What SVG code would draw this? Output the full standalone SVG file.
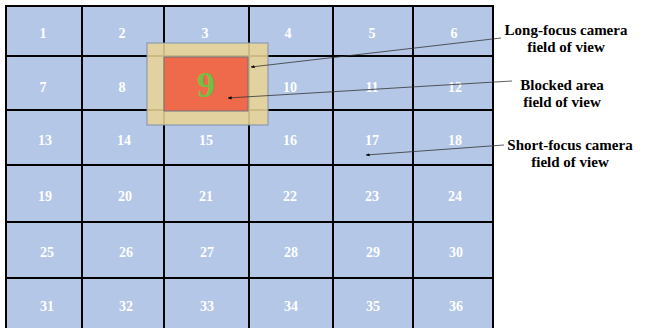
<svg xmlns="http://www.w3.org/2000/svg" width="649" height="328" viewBox="0 0 649 328">
<style>
.cell{fill:#b4c7e7;stroke:#000;stroke-width:2}
.num{font-family:"Liberation Serif",serif;font-weight:bold;font-size:14px;fill:#fff;text-anchor:middle}
.lbl{font-family:"Liberation Serif",serif;font-weight:bold;font-size:15px;fill:#000;text-anchor:middle}
.conn{stroke:#333;stroke-width:0.8;fill:none;marker-end:url(#ah)}
</style>
<defs>
<marker id="ah" viewBox="0 0 10 10" refX="9" refY="5" markerWidth="5" markerHeight="5" orient="auto">
<path d="M0,1 L10,5 L0,9 z" fill="#000"/>
</marker>
</defs>
<rect width="649" height="328" fill="#fff"/>
<g id="grid">
<rect class="cell" x="6" y="6" width="76" height="50"/><rect class="cell" x="82" y="6" width="82" height="50"/><rect class="cell" x="164" y="6" width="85" height="50"/><rect class="cell" x="249" y="6" width="84" height="50"/><rect class="cell" x="333" y="6" width="80" height="50"/><rect class="cell" x="413" y="6" width="80" height="50"/>
<rect class="cell" x="6" y="56" width="76" height="54"/><rect class="cell" x="82" y="56" width="82" height="54"/><rect class="cell" x="164" y="56" width="85" height="54"/><rect class="cell" x="249" y="56" width="84" height="54"/><rect class="cell" x="333" y="56" width="80" height="54"/><rect class="cell" x="413" y="56" width="80" height="54"/>
<rect class="cell" x="6" y="110" width="76" height="55"/><rect class="cell" x="82" y="110" width="82" height="55"/><rect class="cell" x="164" y="110" width="85" height="55"/><rect class="cell" x="249" y="110" width="84" height="55"/><rect class="cell" x="333" y="110" width="80" height="55"/><rect class="cell" x="413" y="110" width="80" height="55"/>
<rect class="cell" x="6" y="165" width="76" height="57"/><rect class="cell" x="82" y="165" width="82" height="57"/><rect class="cell" x="164" y="165" width="85" height="57"/><rect class="cell" x="249" y="165" width="84" height="57"/><rect class="cell" x="333" y="165" width="80" height="57"/><rect class="cell" x="413" y="165" width="80" height="57"/>
<rect class="cell" x="6" y="222" width="76" height="56"/><rect class="cell" x="82" y="222" width="82" height="56"/><rect class="cell" x="164" y="222" width="85" height="56"/><rect class="cell" x="249" y="222" width="84" height="56"/><rect class="cell" x="333" y="222" width="80" height="56"/><rect class="cell" x="413" y="222" width="80" height="56"/>
<rect class="cell" x="6" y="278" width="76" height="52"/><rect class="cell" x="82" y="278" width="82" height="52"/><rect class="cell" x="164" y="278" width="85" height="52"/><rect class="cell" x="249" y="278" width="84" height="52"/><rect class="cell" x="333" y="278" width="80" height="52"/><rect class="cell" x="413" y="278" width="80" height="52"/>
</g>
<g id="long-focus-fov">
<rect x="147" y="43" width="121" height="82" fill="#e8d496" fill-opacity="0.88" stroke="#7f93b0" stroke-width="1"/>
</g>
<g id="blocked-area">
<rect x="164" y="57" width="84" height="54" fill="#ef694b" stroke="#6e7480" stroke-width="1"/>
<text x="206" y="97" font-family="Liberation Serif,serif" font-weight="bold" font-size="36" fill="#72c043" text-anchor="middle">9</text>
</g>
<g id="numbers">
<text class="num" x="43" y="38">1</text><text class="num" x="122" y="38">2</text><text class="num" x="205" y="38">3</text><text class="num" x="288" y="38">4</text><text class="num" x="372" y="38">5</text><text class="num" x="454" y="38">6</text>
<text class="num" x="43" y="92">7</text><text class="num" x="122" y="92">8</text><text class="num" x="290" y="92">10</text><text class="num" x="372" y="92">11</text><text class="num" x="455" y="92">12</text>
<text class="num" x="45" y="145">13</text><text class="num" x="124" y="145">14</text><text class="num" x="206" y="145">15</text><text class="num" x="290" y="145">16</text><text class="num" x="372" y="145">17</text><text class="num" x="455" y="145">18</text>
<text class="num" x="45" y="201">19</text><text class="num" x="125" y="201">20</text><text class="num" x="206" y="201">21</text><text class="num" x="290" y="201">22</text><text class="num" x="372" y="201">23</text><text class="num" x="455" y="201">24</text>
<text class="num" x="47" y="257">25</text><text class="num" x="126" y="257">26</text><text class="num" x="207" y="257">27</text><text class="num" x="291" y="257">28</text><text class="num" x="373" y="257">29</text><text class="num" x="456" y="257">30</text>
<text class="num" x="47" y="311">31</text><text class="num" x="126" y="311">32</text><text class="num" x="207" y="311">33</text><text class="num" x="291" y="311">34</text><text class="num" x="373" y="311">35</text><text class="num" x="456" y="311">36</text>
</g>
<g id="connectors">
<line class="conn" x1="501" y1="38" x2="251" y2="67"/>
<line class="conn" x1="512" y1="81" x2="228" y2="98"/>
<line class="conn" x1="504" y1="145" x2="366" y2="155"/>
</g>
<g id="labels">
<text class="lbl" x="566" y="35">Long-focus camera</text>
<text class="lbl" x="566" y="52">field of view</text>
<text class="lbl" x="562" y="90">Blocked area</text>
<text class="lbl" x="562" y="107">field of view</text>
<text class="lbl" x="570" y="150">Short-focus camera</text>
<text class="lbl" x="570" y="167">field of view</text>
</g>
</svg>
